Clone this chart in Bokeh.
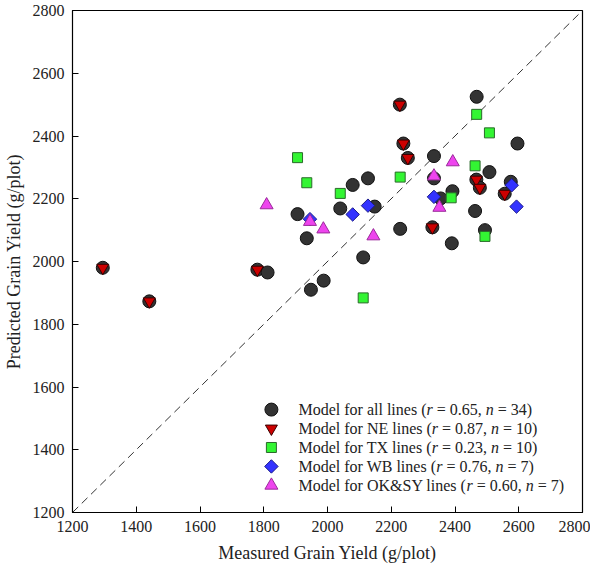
from bokeh.plotting import figure
from bokeh.models import Range1d, FixedTicker
from bokeh.core.properties import value
from bokeh.embed import file_html
from bokeh.resources import INLINE
import numpy as np

# ---- data ----
all_x = [1295, 1441, 1780, 1812, 1906, 1935, 1948, 1988, 2040, 2079, 2112, 2127, 2148, 2227, 2228, 2238,
         2252, 2329, 2334, 2334, 2355, 2390, 2392, 2463, 2467, 2468, 2478, 2494, 2508, 2556, 2575, 2596]
all_y = [1980, 1873, 1974, 1965, 2151, 2074, 1910, 1939, 2169, 2244, 2013, 2265, 2175, 2500, 2104, 2376,
         2330, 2109, 2336, 2265, 2201, 2058, 2224, 2161, 2261, 2525, 2235, 2100, 2285, 2216, 2254, 2376]

ne_x = [1295, 1441, 1780, 2227, 2238, 2252, 2329, 2467, 2478, 2556]
ne_y = [1980, 1873, 1974, 2500, 2376, 2330, 2109, 2261, 2235, 2216]

tx_x = [1906, 1935, 2040, 2112, 2228, 2388, 2463, 2468, 2494, 2508]
tx_y = [2331, 2251, 2217, 1884, 2269, 2203, 2305, 2469, 2080, 2410]

wb_x = [1945, 2079, 2127, 2334, 2578, 2593]
wb_y = [2135, 2150, 2178, 2206, 2243, 2175]

ok_x = [1809, 1945, 1987, 2144, 2334, 2351, 2393]
ok_y = [2180, 2127, 2103, 2081, 2272, 2172, 2317]

series_names = ["all", "NE", "TX", "WB", "OK&SY"]
r_values = ["0.65", "0.87", "0.23", "0.76", "0.60"]
n_values = ["34", "10", "10", "7", "7"]

axis_min, axis_max = 1200, 2800
ticks = [1200, 1400, 1600, 1800, 2000, 2200, 2400, 2600, 2800]
one_to_one = [axis_min, axis_max]

FONT = "Liberation Serif"
LEG_FS = 16  # px

p = figure(width=590, height=565, output_backend="svg", toolbar_location=None,
           x_range=Range1d(axis_min, axis_max), y_range=Range1d(axis_min, axis_max),
           min_border_left=72, min_border_right=8, min_border_top=10, min_border_bottom=50)

p.grid.visible = False
p.outline_line_color = "black"
p.outline_line_width = 1.2
p.background_fill_color = "white"
p.border_fill_color = "white"

for ax in (p.xaxis[0], p.yaxis[0]):
    ax.ticker = FixedTicker(ticks=ticks)
    ax.major_tick_in = 6
    ax.major_tick_out = 0
    ax.minor_tick_in = 0
    ax.minor_tick_out = 0
    ax.axis_line_color = "black"
    ax.major_tick_line_color = "black"
    ax.major_label_text_font = FONT
    ax.major_label_text_font_size = "16px"
    ax.major_label_text_color = "#222222"
    ax.axis_label_text_font = FONT
    ax.axis_label_text_font_size = "18px"
    ax.axis_label_text_font_style = "normal"
    ax.axis_label_text_color = "#222222"
    ax.major_label_standoff = 8

p.xaxis.axis_label = "Measured Grain Yield (g/plot)"
p.yaxis.axis_label = "Predicted Grain Yield (g/plot)"
p.xaxis.axis_label_standoff = 8
p.yaxis.axis_label_standoff = 6

# 1:1 line
p.line(one_to_one, one_to_one, line_color="#333333", line_width=1, line_dash="8 5")

styles = [
    dict(marker="circle", size=13, fill_color="#333333", line_color="#111111", angle=0),
    dict(marker="inverted_triangle", size=12, fill_color="#cc0000", line_color="#3a0000", angle=0),
    dict(marker="square", size=10, fill_color="#33f533", line_color="#2a6a2a", angle=0),
    dict(marker="square", size=9.5, fill_color="#3333ff", line_color="#1a1a8a", angle=np.pi / 4),
    dict(marker="triangle", size=13, fill_color="#ee44ee", line_color="#9a2a9a", angle=0),
]
data = [(all_x, all_y), (ne_x, ne_y), (tx_x, tx_y), (wb_x, wb_y), (ok_x, ok_y)]
for (xs, ys), st in zip(data, styles):
    p.scatter(xs, ys, **st)

# ---- legend (drawn by hand so that r and n can be italic) ----
# Times / Liberation Serif advance widths (per 1000 em)
W_NORMAL = {" ": 250, "(": 333, ")": 333, "=": 564, ".": 250, ",": 250, "&": 778,
            "M": 889, "o": 500, "d": 500, "e": 444, "l": 278, "f": 333, "r": 333, "a": 444,
            "i": 278, "n": 500, "s": 389, "N": 722, "E": 611, "T": 611, "X": 722, "W": 944,
            "B": 667, "O": 722, "K": 722, "S": 556, "Y": 722}
W_ITALIC = {"r": 389, "n": 500}


def text_width(s, italic=False):
    tbl = W_ITALIC if italic else W_NORMAL
    return sum(tbl.get(c, W_NORMAL.get(c, 500)) for c in s) * LEG_FS / 1000.0


leg_marker_x = 1824
leg_text_x = 1909
leg_top_y = 1528
leg_step = 60.4

norm = dict(x=[], y=[], t=[], off=[])
ital = dict(x=[], y=[], t=[], off=[])
for i, (name, rv, nv) in enumerate(zip(series_names, r_values, n_values)):
    y = leg_top_y - i * leg_step
    segs = [(f"Model for {name} lines (", False), ("r", True), (f" = {rv}, ", False),
            ("n", True), (f" = {nv})", False)]
    off = 0.0
    for s, it in segs:
        lead = len(s) - len(s.lstrip(" "))
        body = s.strip(" ")
        d = ital if it else norm
        d["x"].append(leg_text_x)
        d["y"].append(y)
        d["t"].append(body)
        d["off"].append(off + text_width(" " * lead))
        off += text_width(s, it)
    p.scatter([leg_marker_x], [y], **styles[i])

for d, fs in ((norm, "normal"), (ital, "italic")):
    p.text(x=d["x"], y=d["y"], text=d["t"], x_offset=d["off"],
           text_font=value(FONT), text_font_size=value(f"{LEG_FS}px"),
           text_font_style=value(fs), text_color="#222222",
           text_baseline="middle", text_align="left")

open("out.html", "w").write(file_html(p, INLINE))
